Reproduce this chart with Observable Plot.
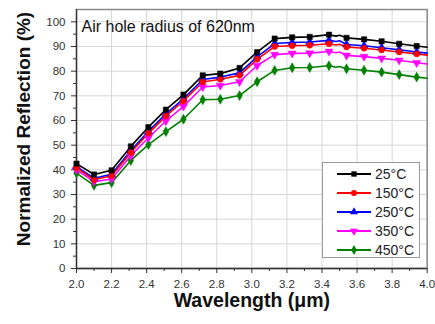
<!DOCTYPE html>
<html><head><meta charset="utf-8">
<script src="https://cdn.jsdelivr.net/npm/d3@7"></script>
<script src="https://cdn.jsdelivr.net/npm/@observablehq/plot@0.6"></script>
<style>
body{margin:0;background:#fff;}
#wrap{position:relative;width:435px;height:324px;font-family:"Liberation Sans",Arial,sans-serif;}
#legend{position:absolute;left:322px;top:162px;width:98px;height:96px;border:1.5px solid #9a9a9a;background:#fff;box-sizing:border-box;}
.row{position:absolute;left:0;height:18px;display:flex;align-items:center;}
.row svg{display:block;margin-left:13px;}
.row span{font-size:14px;color:#222;margin-left:3px;}
</style></head><body><div id="wrap"></div>
<script>
const wavelength = [2.00,2.10,2.20,2.31,2.41,2.51,2.61,2.72,2.82,2.93,3.03,3.13,3.23,3.33,3.44,3.48,3.50,3.54,3.64,3.74,3.84,3.94,4.00];
const unmarked = [3.48, 3.50, 4.00];
const seriesNames = ["25°C","150°C","250°C","350°C","450°C"];
const refl25  = [42.5,38.1,39.8,49.5,57.3,64.4,70.5,78.3,79.0,81.3,87.7,93.2,93.7,93.9,94.8,94.2,94.6,93.5,92.9,92.1,91.1,90.2,89.7];
const refl150 = [40.8,36.0,37.6,47.0,54.8,61.8,67.9,75.6,76.7,78.3,84.8,90.0,90.3,90.5,91.1,90.6,90.9,89.8,89.3,88.6,87.8,87.0,86.5];
const refl250 = [41.3,36.6,38.2,47.8,55.6,62.7,68.8,76.6,77.6,79.3,85.8,91.2,91.6,91.8,92.5,92.0,92.3,90.8,90.3,89.5,88.7,87.8,87.3];
const refl350 = [40.0,35.2,36.3,45.7,53.0,59.8,65.7,73.6,74.2,75.7,82.3,86.7,87.2,87.3,88.0,87.5,87.8,86.4,85.9,85.2,84.4,83.4,82.9];
const refl450 = [38.7,33.7,34.8,43.8,50.2,55.5,60.5,68.4,68.6,70.1,75.7,80.3,81.4,81.5,82.2,81.6,81.9,81.0,80.4,79.6,78.6,77.6,77.1];
const xTicks = [2.0,2.2,2.4,2.6,2.8,3.0,3.2,3.4,3.6,3.8,4.0];
const xMinor = [2.1,2.3,2.5,2.7,2.9,3.1,3.3,3.5,3.7,3.9];
const yTicks = [0,10,20,30,40,50,60,70,80,90,100];
const yMinor = [5,15,25,35,45,55,65,75,85,95];
const title = "Air hole radius of 620nm";
const xLabel = "Wavelength (\u03bcm)";
const yLabel = "Normalized Reflection (%)";

const colors = ["#000000","#ff0000","#0000ff","#ff00ff","#008000"];
const sqrt3 = Math.sqrt(3);
const triangleDown = {draw(context, size){
  const y = -Math.sqrt(size / (sqrt3 * 3));
  context.moveTo(0, -y * 2); context.lineTo(-sqrt3 * y, y); context.lineTo(sqrt3 * y, y); context.closePath();
}};
const symbols = [d3.symbolSquare, d3.symbolCircle, d3.symbolTriangle, triangleDown, d3.symbolDiamond];
const values = [refl25, refl150, refl250, refl350, refl450];

const data = [];
for (let k = seriesNames.length - 1; k >= 0; k--) {
  wavelength.forEach((w, i) => data.push({s: seriesNames[k], w, v: values[k][i], marked: !unmarked.includes(w)}));
}

const font = '"Liberation Sans",Arial,sans-serif';
const chart = Plot.plot({
  width: 435, height: 324,
  marginLeft: 76, marginRight: 8.3, marginTop: 9, marginBottom: 56,
  x: {domain: [2, 4]},
  y: {domain: [0, 105]},
  color: {domain: seriesNames, range: colors},
  symbol: {domain: seriesNames, range: symbols},
  style: {fontFamily: font, fontSize: "11.5px", color: "#333", background: "white"},
  marks: [
    Plot.gridX(xTicks, {stroke: "#d6d6d6", strokeOpacity: 1}),
    Plot.gridY(yTicks, {stroke: "#d6d6d6", strokeOpacity: 1}),
    Plot.frame({stroke: "#8a8a8a", strokeWidth: 1.5}),
    Plot.axisX(xMinor, {tickSize: 3, tickFormat: () => "", label: null, stroke: "#333"}),
    Plot.axisX(xTicks, {tickSize: 5, tickPadding: 6, tickFormat: d => d.toFixed(1), label: null, stroke: "#333"}),
    Plot.axisY(yMinor, {tickSize: 3, tickFormat: () => "", label: null, stroke: "#333"}),
    Plot.axisY(yTicks, {tickSize: 5, tickPadding: 6, label: null, stroke: "#333"}),
    Plot.ruleX([2], {stroke: "#333", strokeWidth: 1.3}),
    Plot.ruleY([0], {stroke: "#333", strokeWidth: 1.3}),
    Plot.line(data, {x: "w", y: "v", z: "s", stroke: "s", strokeWidth: 1.6}),
    Plot.dot(data.filter(d => d.marked), {x: "w", y: "v", fill: "s", stroke: "s", strokeWidth: 0.5, symbol: "s", r: 3}),
    Plot.text([title], {frameAnchor: "top-left", dx: 5, dy: 11, lineAnchor: "top", fontSize: 16, fill: "#111", textAnchor: "start"}),
    Plot.text([xLabel], {frameAnchor: "bottom", dy: 32, lineAnchor: "middle", fontSize: 19.5, fontWeight: "bold", fill: "#111"}),
    Plot.text([yLabel], {frameAnchor: "left", dx: -53, dy: -10, rotate: -90, textAnchor: "middle", lineAnchor: "middle", fontSize: 19, fontWeight: "bold", fill: "#111"})
  ]
});
const wrap = document.getElementById("wrap");
wrap.appendChild(chart);

const legend = document.createElement("div");
legend.id = "legend";
seriesNames.forEach((name, k) => {
  const row = document.createElement("div");
  row.className = "row";
  row.style.top = (2 + k * 19) + "px";
  const svg = d3.create("svg").attr("width", 36).attr("height", 12);
  svg.append("line").attr("x1", 1).attr("x2", 35).attr("y1", 6).attr("y2", 6).attr("stroke", colors[k]).attr("stroke-width", 1.8);
  svg.append("path").attr("transform", "translate(18,6)").attr("d", d3.symbol(symbols[k], Math.PI * 9)()).attr("fill", colors[k]);
  row.appendChild(svg.node());
  const span = document.createElement("span");
  span.textContent = name;
  row.appendChild(span);
  legend.appendChild(row);
});
wrap.appendChild(legend);
</script></body></html>
